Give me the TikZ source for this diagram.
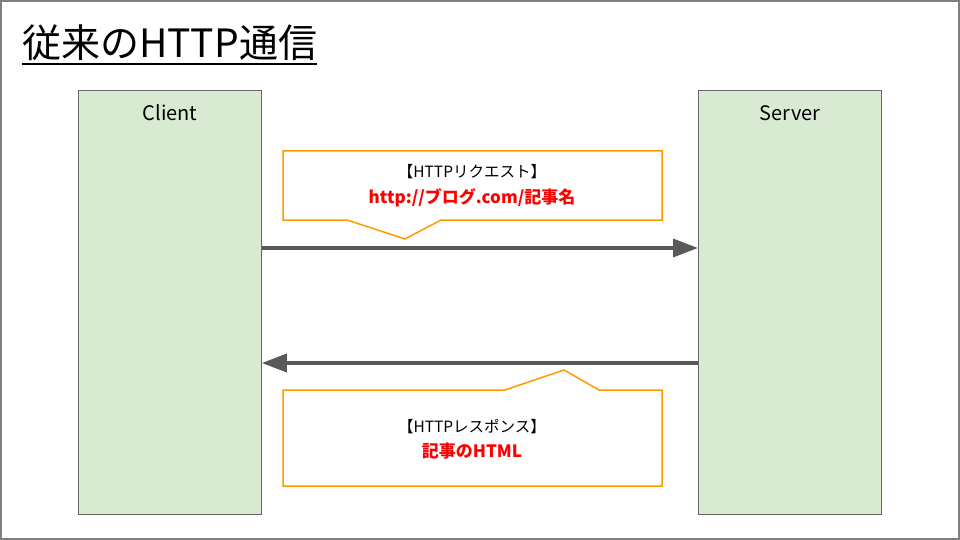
\documentclass[tikz,border=0pt]{standalone}
\usepackage{fontspec}
\setmainfont{Noto Sans CJK JP}
\usetikzlibrary{arrows.meta}
\definecolor{boxgreen}{HTML}{D9EAD3}
\definecolor{boxedge}{HTML}{666666}
\definecolor{callout}{HTML}{FF9900}
\definecolor{arrowgray}{HTML}{595959}
\definecolor{frame}{HTML}{808080}
\tikzset{
  lane/.style={draw=boxedge, fill=boxgreen, line width=0.8pt, minimum width=183pt, minimum height=424pt, anchor=north west, inner sep=0},
  lanelabel/.style={font=\fontsize{20}{22}\selectfont, anchor=base},
  flow/.style={draw=arrowgray, line width=3.5pt, -{Triangle[length=25pt,width=18pt]}},
  bubble/.style={draw=callout, line width=1.5pt, fill=white, line join=miter},
  msg/.style={font=\fontsize{15.5}{17}\selectfont, anchor=base, inner sep=0},
  msgred/.style={font=\fontsize{17}{19}\selectfont\bfseries, text=red, anchor=base, inner sep=0}
}
\begin{document}
\begin{tikzpicture}[x=1pt,y=-1pt]
\useasboundingbox (0,0) rectangle (960,540);
\draw[frame, line width=2pt] (1,1) rectangle (959,539);
% title
\node[anchor=base west, inner sep=0, font=\fontsize{39}{42}\selectfont] (title) at (22,58) {従来のHTTP通信};
\draw[line width=2.2pt] ([yshift=-6pt]title.base west) -- ([yshift=-6pt]title.base east);
% lanes
\node[lane] (client) at (78,90) {};
\node[lane] (server) at (698,90) {};
\node[lanelabel] (clientlbl) at (170,121) {Client};
\node[lanelabel] (serverlbl) at (790,121) {Server};
% request callout
\draw[bubble] (283,151) -- (662,151) -- (662,220) -- (441,220) -- (405,239) -- (347,220) -- (283,220) -- cycle;
\node[msg] (req1) at (472,178) {【HTTPリクエスト】};
\node[msgred] (req2) at (472,204) {http://ブログ.com/記事名};
% response callout
\draw[bubble] (283,390) -- (505,390) -- (564,370) -- (599,390) -- (662,390) -- (662,486) -- (283,486) -- cycle;
\node[msg] (res1) at (472,432) {【HTTPレスポンス】};
\node[msgred] (res2) at (472,457) {記事のHTML};
% arrows
\coordinate (y1) at (0,248);
\coordinate (y2) at (0,363);
\draw[flow] (client.east |- y1) -- (server.west |- y1);
\draw[flow] (server.west |- y2) -- (client.east |- y2);
\end{tikzpicture}
\end{document}
